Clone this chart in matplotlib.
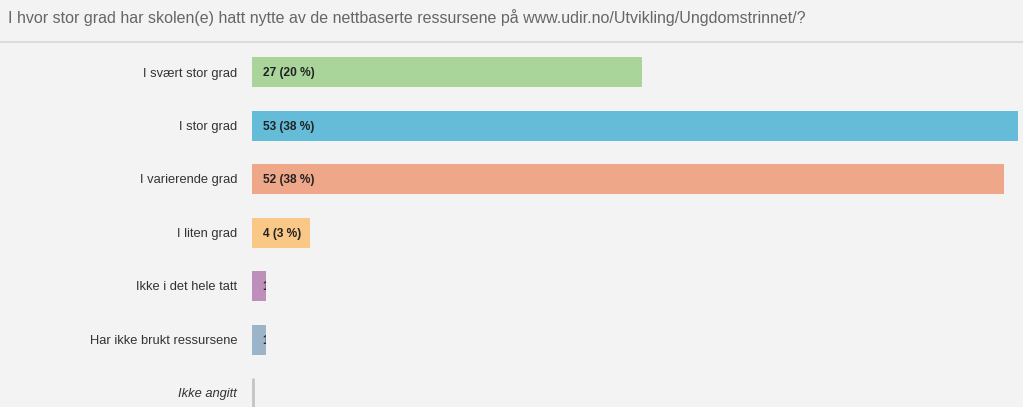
import matplotlib
matplotlib.use("Agg")
import matplotlib.pyplot as plt
from matplotlib.lines import Line2D
from matplotlib.transforms import Bbox, TransformedBbox

plt.rcParams['font.family'] = ['Liberation Sans', 'DejaVu Sans']

title = "I hvor stor grad har skolen(e) hatt nytte av de nettbaserte ressursene på www.udir.no/Utvikling/Ungdomstrinnet/?"
categories = ["I svært stor grad", "I stor grad", "I varierende grad", "I liten grad",
              "Ikke i det hele tatt", "Har ikke brukt ressursene", "Ikke angitt"]
counts = [27, 53, 52, 4, 1, 1, 0]
percents = [20, 38, 38, 3, 1, 1, 0]
colors = ["#a9d59b", "#64bcd9", "#efa78a", "#f9c886", "#be8fba", "#9bb4c9", "#bbbbbb"]

W, H = 1023, 407
fig = plt.figure(figsize=(W / 100, H / 100), dpi=100)
bg = "#f3f3f3"
fig.patch.set_facecolor(bg)

# title and separator
fig.text(8 / W, 1 - 18 / H, title, fontsize=11.5, color="#666666", va="center", ha="left")
fig.add_artist(Line2D([0, 1], [1 - 41.5 / H] * 2, color="#d8d8d8", lw=1.2))

left_px, right_px = 252, 1023
top_px, bot_px = 45, 407
ax = fig.add_axes([left_px / W, 1 - bot_px / H, (right_px - left_px) / W, (bot_px - top_px) / H])
ax.set_facecolor(bg)
ppu = (1018 - 252) / 53.0
ax.set_xlim(0, (right_px - left_px) / ppu)
step = 53.5
ax.set_ylim((bot_px - 72) / step, (top_px - 72) / step)
for s in ax.spines.values():
    s.set_visible(False)
ax.set_xticks([])
ax.set_yticks([])

bh = 30 / step
ys = list(range(len(categories)))
bars = ax.barh(ys, counts, height=bh, color=colors)
for y, c, p, b, cat in zip(ys, counts, percents, bars, categories):
    italic = c == 0
    fig.text(237 / W, 1 - (73.5 + step * y) / H, cat, ha="right", va="center",
             fontsize=9.3, color="#333333", style="italic" if italic else "normal")
    if c == 0:
        ax.vlines(0.07, y - bh / 2, y + bh / 2, color="#c4c4c4", lw=2)
        continue
    t = ax.text(11 / ppu, y + 0.02, f"{c} ({p} %)", ha="left", va="center", fontsize=8.6,
                fontweight="bold", color="#222222")
    t.set_clip_box(TransformedBbox(Bbox([[0, y - bh / 2], [c, y + bh / 2]]), ax.transData))
    t.set_clip_on(True)

fig.savefig("out.png", dpi=100, facecolor=bg)
